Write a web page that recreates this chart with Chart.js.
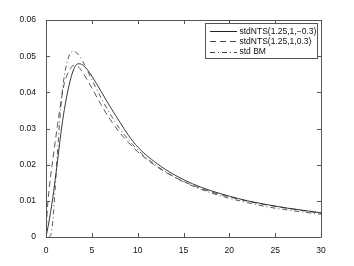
<!DOCTYPE html>
<html>
<head>
<meta charset="utf-8">
<script src="https://cdn.jsdelivr.net/npm/chart.js@4/dist/chart.umd.min.js"></script>
<style>
  html, body { margin: 0; padding: 0; background: #fff; }
  canvas { display: block; }
</style>
</head>
<body>
<canvas id="densChart" width="354" height="266"></canvas>
<script>
(function(){
    // values
    const xSolid  = [0, 0.25, 0.5, 0.75, 1, 1.25, 1.5, 1.75, 2, 2.5, 3, 3.5, 4, 4.5, 5, 6, 7, 8, 9, 10, 12, 14, 16, 18, 20, 22, 24, 26, 28, 30];
    const ySolid  = [0, 0.0032, 0.0068, 0.011, 0.0158, 0.0208, 0.0262, 0.031, 0.0352, 0.0418, 0.0462, 0.0479, 0.0476, 0.0463, 0.0445, 0.0403, 0.036, 0.032, 0.0281, 0.0249, 0.0205, 0.0172, 0.0147, 0.0128, 0.0113, 0.0100, 0.0090, 0.0081, 0.0074, 0.0067];

    const xDashed = [0, 0.1, 0.2, 0.35, 0.5, 0.75, 1, 1.25, 1.5, 1.75, 2, 2.5, 3, 3.5, 4, 5, 6, 7, 8, 9, 10, 12, 14, 16, 18, 20, 22, 24, 26, 28, 30];
    const yDashed = [0, 0.0055, 0.0095, 0.0135, 0.0168, 0.0215, 0.0262, 0.0308, 0.0352, 0.0392, 0.0425, 0.0459, 0.0474, 0.0471, 0.0455, 0.0412, 0.0366, 0.0325, 0.029, 0.0261, 0.0236, 0.0196, 0.0166, 0.0143, 0.0125, 0.0111, 0.0099, 0.0089, 0.0081, 0.0073, 0.0066];

    const xBM     = [0.3, 0.5, 0.75, 1, 1.25, 1.5, 1.75, 2, 2.5, 3, 3.5, 4, 5, 6, 7, 8, 9, 10, 12, 14, 16, 18, 20, 22, 24, 26, 28, 30];
    const yBM     = [0, 0.0004, 0.0046, 0.0133, 0.0234, 0.0324, 0.0395, 0.0446, 0.0500, 0.0514, 0.0505, 0.0486, 0.0435, 0.0385, 0.034, 0.0301, 0.0269, 0.0241, 0.0198, 0.0166, 0.0141, 0.0122, 0.0107, 0.0095, 0.0084, 0.0076, 0.0069, 0.0063];

    const labels  = ['stdNTS(1.25,1,\u22120.3)', 'stdNTS(1.25,1,0.3)', 'std BM'];
    const xTicks  = [0, 5, 10, 15, 20, 25, 30];
    const yTicks  = [0, 0.01, 0.02, 0.03, 0.04, 0.05, 0.06];

    const FONT = '"Liberation Sans", Arial, Helvetica, sans-serif';
    const pts = (xs, ys) => xs.map((x, i) => ({x: x, y: ys[i]}));

    // MATLAB style box with inward ticks, plus the legend box
    const matlabFrame = {
        id: 'matlabFrame',
        afterDatasetsDraw(chart){
            const {ctx, chartArea: a, scales} = chart;
            ctx.save();
            ctx.strokeStyle = '#555';
            ctx.lineWidth = 1;
            ctx.beginPath();
            ctx.rect(Math.round(a.left) + 0.5, Math.round(a.top) + 0.5, Math.round(a.right - a.left), Math.round(a.bottom - a.top));
            ctx.stroke();
            const tl = 4;
            ctx.beginPath();
            xTicks.forEach(v => {
                const px = Math.round(scales.x.getPixelForValue(v)) + 0.5;
                ctx.moveTo(px, a.bottom); ctx.lineTo(px, a.bottom - tl);
                ctx.moveTo(px, a.top); ctx.lineTo(px, a.top + tl);
            });
            yTicks.forEach(v => {
                const py = Math.round(scales.y.getPixelForValue(v)) + 0.5;
                ctx.moveTo(a.left, py); ctx.lineTo(a.left + tl, py);
                ctx.moveTo(a.right, py); ctx.lineTo(a.right - tl, py);
            });
            ctx.stroke();

            // legend
            const bx = 205, by = 23, bw = 112, bh = 35;
            ctx.fillStyle = '#fff';
            ctx.fillRect(bx, by, bw, bh);
            ctx.strokeStyle = '#555';
            ctx.strokeRect(bx + 0.5, by + 0.5, bw, bh);
            ctx.font = '8.5px ' + FONT;
            ctx.textBaseline = 'middle';
            ctx.textAlign = 'left';
            chart.data.datasets.forEach((ds, i) => {
                const cy = by + 8 + i * 10.3;
                ctx.save();
                ctx.strokeStyle = ds.borderColor;
                ctx.lineWidth = 1;
                ctx.setLineDash(ds.borderDash || []);
                ctx.beginPath();
                ctx.moveTo(210, Math.round(cy) + 0.5);
                ctx.lineTo(237, Math.round(cy) + 0.5);
                ctx.stroke();
                ctx.restore();
                ctx.fillStyle = '#111';
                ctx.fillText(ds.label, 239.5, cy + 0.5);
            });
            ctx.restore();
        }
    };

    const chart = new Chart(document.getElementById('densChart').getContext('2d'), {
        type: 'line',
        data: {
            datasets: [
                { label: labels[0], data: pts(xSolid, ySolid), borderColor: '#222', borderWidth: 0.9, borderDash: [] },
                { label: labels[1], data: pts(xDashed, yDashed), borderColor: '#444', borderWidth: 0.9, borderDash: [6, 4] },
                { label: labels[2], data: pts(xBM, yBM), borderColor: '#444', borderWidth: 0.9, borderDash: [5, 3, 1, 3] }
            ]
        },
        options: {
            responsive: false,
            animation: false,
            elements: {
                point: { radius: 0 },
                line: { fill: false, cubicInterpolationMode: 'monotone' }
            },
            layout: { padding: { left: 0, top: 20, right: 33, bottom: 0 } },
            scales: {
                x: {
                    type: 'linear', min: 0, max: 30,
                    grid: { display: false }, border: { display: false },
                    afterBuildTicks: s => { s.ticks = xTicks.map(v => ({value: v})); },
                    afterFit: s => { s.height = 29; },
                    ticks: { padding: 1, color: '#111', font: { family: FONT, size: 8.5 }, maxRotation: 0 }
                },
                y: {
                    type: 'linear', min: 0, max: 0.06,
                    grid: { display: false }, border: { display: false },
                    afterBuildTicks: s => { s.ticks = yTicks.map(v => ({value: v})); },
                    afterFit: s => { s.width = 46; },
                    ticks: { padding: 2, color: '#111', font: { family: FONT, size: 8.5 }, callback: v => String(+v.toFixed(2)) }
                }
            },
            plugins: { legend: { display: false }, tooltip: { enabled: false } }
        },
        plugins: [matlabFrame]
    });
})();
</script>
</body>
</html>
